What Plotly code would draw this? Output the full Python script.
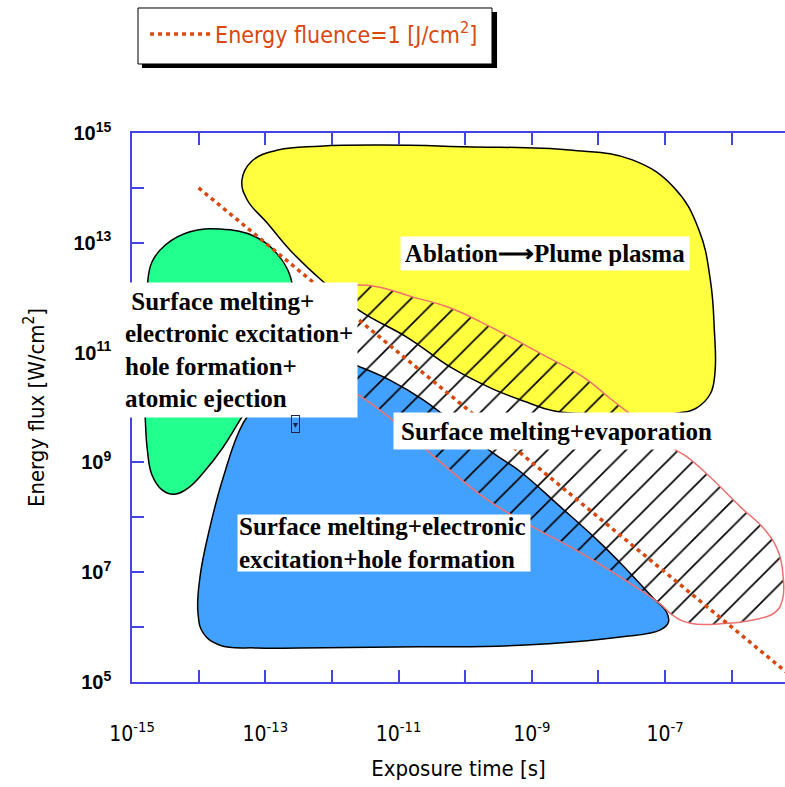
import plotly.graph_objects as go

# ---------------- data (log10 of exposure time [s] and energy flux [W/cm2]) -------------
x_exponents = list(range(-15, -5))          # tick decades on x
y_exponents = list(range(5, 16))            # tick decades on y

# Ablation -> plume plasma (yellow)
abl_logt = [-7.97, -8.68, -9.08, -9.59, -10.20, -10.86, -11.58, -12.13, -12.63, -12.97,
            -13.27, -13.35, -13.20, -12.81, -12.18, -11.26, -10.00, -8.44, -7.49, -6.86,
            -6.49, -6.32, -6.26, -6.25, -6.32, -6.53, -6.79, -7.37]
abl_logF = [9.88, 9.94, 10.10, 10.34, 10.72, 11.27, 11.76, 12.29, 12.87, 13.36,
            13.78, 14.14, 14.49, 14.69, 14.76, 14.78, 14.75, 14.69, 14.51, 14.00,
            13.23, 12.32, 11.41, 10.65, 10.25, 9.99, 9.90, 9.86]

# Surface melting + electronic excitation + hole formation + atomic ejection (green)
ej_logt = [-12.70, -13.00, -13.38, -13.63, -13.93, -14.16, -14.37, -14.55, -14.70, -14.77,
           -14.80, -14.82, -14.80, -14.77, -14.70, -14.50, -14.13, -13.68, -13.15, -12.81,
           -12.63, -12.58]
ej_logF = [11.59, 10.50, 9.77, 9.28, 8.81, 8.53, 8.42, 8.50, 8.77, 9.23,
           9.77, 10.50, 11.59, 12.23, 12.65, 12.96, 13.20, 13.25, 13.11, 12.78,
           12.41, 12.05]

# Surface melting + electronic excitation + hole formation (blue)
hole_logt = [-12.48, -11.95, -11.58, -11.13, -10.63, -10.08, -9.58, -9.17, -8.57, -7.97,
             -7.57, -7.18, -6.98, -6.95, -7.07, -7.67, -9.17, -10.68, -12.48, -13.12,
             -13.68, -13.93, -14.01, -13.98, -13.83, -13.63, -13.33, -13.00]
hole_logF = [10.59, 10.90, 10.74, 10.50, 10.14, 9.63, 9.17, 8.83, 8.19, 7.53,
             7.04, 6.53, 6.28, 6.09, 5.95, 5.82, 5.67, 5.64, 5.62, 5.62,
             5.67, 5.89, 6.26, 6.91, 7.82, 8.73, 9.72, 10.23]

# Surface melting + evaporation (hatched)
evap_logt = [-11.88, -11.59, -11.28, -10.78, -10.26, -9.59, -8.83, -8.21, -7.81, -7.37,
             -6.88, -6.67, -6.32, -5.87, -5.50, -5.30, -5.23, -5.24, -5.36, -5.68,
             -6.07, -6.62, -6.89, -7.07, -7.67, -8.42, -8.98, -9.67, -10.18, -10.63,
             -11.13, -11.58, -11.88]
evap_logF = [12.18, 12.23, 12.19, 12.01, 11.83, 11.45, 10.96, 10.54, 10.15, 9.74,
             9.26, 9.10, 8.73, 8.19, 7.77, 7.37, 6.95, 6.49, 6.26, 6.13,
             6.07, 6.07, 6.22, 6.42, 6.91, 7.46, 7.82, 8.32, 8.81, 9.28,
             9.81, 10.21, 10.41]

# Energy fluence = 1 J/cm2 : flux = 1 / time
fluence_t = [1e-14, 1e-5]
fluence_F = [1e14, 1e5]

# ---------------- styling ----------------
GOTHIC = "DejaVu Sans Condensed, Liberation Sans Narrow, DejaVu Sans, sans-serif"
SERIF = "Liberation Serif, Times New Roman, serif"
AXIS_BLUE = "#4444e6"
ORANGE = "#d9480f"


def pw(v):
    return [10 ** e for e in v]


fig = go.Figure()

fig.add_trace(go.Scatter(x=pw(ej_logt), y=pw(ej_logF), mode="lines", fill="toself",
                         fillcolor="#22ff8e",
                         line=dict(color="black", width=1.5, shape="spline", smoothing=1.2),
                         showlegend=False, hoverinfo="skip"))
fig.add_trace(go.Scatter(x=pw(abl_logt), y=pw(abl_logF), mode="lines", fill="toself",
                         fillcolor="#ffff40",
                         line=dict(color="black", width=1.5, shape="spline", smoothing=1.2),
                         showlegend=False, hoverinfo="skip"))
fig.add_trace(go.Scatter(x=pw(hole_logt), y=pw(hole_logF), mode="lines", fill="toself",
                         fillcolor="#42a1ff",
                         line=dict(color="black", width=1.5, shape="spline", smoothing=1.2),
                         showlegend=False, hoverinfo="skip"))
fig.add_trace(go.Scatter(x=pw(evap_logt), y=pw(evap_logF), mode="lines", fill="toself",
                         fillcolor="rgba(0,0,0,0)",
                         fillpattern=dict(shape="/", size=18.5, solidity=0.09, fgcolor="black",
                                          bgcolor="rgba(0,0,0,0)", fgopacity=1),
                         line=dict(color="#f07070", width=1.5, shape="spline", smoothing=1.3),
                         showlegend=False, hoverinfo="skip"))
fig.add_trace(go.Scatter(x=fluence_t, y=fluence_F, mode="lines",
                         line=dict(color=ORANGE, width=3.5, dash="4px,4px"),
                         name="Energy fluence=1 [J/cm<sup>2</sup>]", showlegend=True))

x_ticktext = [("10<sup>%d</sup>" % e) if e % 2 else "" for e in x_exponents]
y_ticktext = [("10<sup>%d</sup>" % e) if e % 2 else "" for e in y_exponents]

fig.update_xaxes(type="log", range=[-15, -5.2],
                 tickvals=[10 ** e for e in x_exponents], ticktext=x_ticktext,
                 ticks="inside", ticklen=12, tickwidth=1.5, tickcolor=AXIS_BLUE,
                 showline=True, linecolor=AXIS_BLUE, linewidth=1.5, mirror="ticks",
                 showgrid=False, zeroline=False, ticklabelstandoff=32,
                 tickfont=dict(family=GOTHIC, size=21, color="black"),
                 title=dict(text="Exposure time [s]", font=dict(family=GOTHIC, size=22, color="black"),
                            standoff=16))
fig.update_yaxes(type="log", range=[5, 15],
                 tickvals=[10 ** e for e in y_exponents], ticktext=y_ticktext,
                 ticks="inside", ticklen=12, tickwidth=1.5, tickcolor=AXIS_BLUE,
                 showline=True, linecolor=AXIS_BLUE, linewidth=1.5, mirror=False,
                 showgrid=False, zeroline=False, ticklabelstandoff=15,
                 tickfont=dict(family="Liberation Sans, Arial, sans-serif", size=20,
                               color="black", weight="bold"),
                 title=dict(text="Energy flux [W/cm<sup>2</sup>]",
                            font=dict(family=GOTHIC, size=22, color="black"), standoff=23))

lab_font = dict(family=SERIF, size=25, color="black", weight="bold")
annos = [
    dict(x=-8.80, y=12.80, text="Ablation⟶Plume plasma", width=280, height=25, align="center"),
    dict(x=-13.40, y=11.05,
         text=" Surface melting+<br>electronic excitation+<br>hole formation+<br>atomic ejection",
         width=228, height=126, align="left"),
    dict(x=-8.63, y=9.57, text="Surface melting+evaporation", width=317, height=28, align="center"),
    dict(x=-11.22, y=7.53, text="Surface melting+electronic<br>excitation+hole formation",
         width=290, height=54, align="left", borderpad=1),
]
for a in annos:
    kw = dict(xref="x", yref="y", showarrow=False, bgcolor="white", borderpad=4,
              font=lab_font, xanchor="center", yanchor="middle")
    kw.update(a)
    fig.add_annotation(**kw)
fig.add_annotation(xref="x", yref="y", x=-12.55, y=9.70, text="▾", showarrow=False,
                   font=dict(size=10, color="#222244"), bordercolor="#222244", borderwidth=1,
                   borderpad=1)

# legend frame with drop shadow
fig.add_shape(type="rect", xref="paper", yref="paper", x0=0.0153, x1=0.559, y0=1.1184, y1=1.2204,
              fillcolor="black", line=dict(width=0), layer="above")
fig.add_shape(type="rect", xref="paper", yref="paper", x0=0.0092, x1=0.5513, y0=1.1257, y1=1.2277,
              fillcolor="white", line=dict(color="black", width=1), layer="above")

fig.update_layout(width=785, height=787, margin=dict(l=132, r=0, t=133, b=105),
                  plot_bgcolor="white", paper_bgcolor="white",
                  legend=dict(x=0.02, y=1.2195, xanchor="left", yanchor="top",
                              bgcolor="rgba(0,0,0,0)", borderwidth=0, itemwidth=60,
                              font=dict(family=GOTHIC, size=23, color=ORANGE)))

fig.write_html("out.html")
